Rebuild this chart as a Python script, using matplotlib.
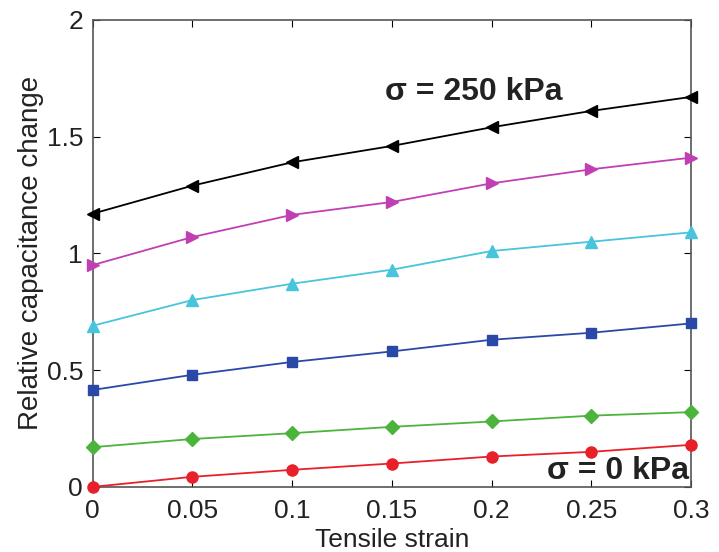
import matplotlib
matplotlib.use("Agg")
import matplotlib.pyplot as plt

strain = [0, 0.05, 0.1, 0.15, 0.2, 0.25, 0.3]
s250 = [1.17, 1.29, 1.39, 1.46, 1.54, 1.61, 1.67]
s200 = [0.95, 1.07, 1.165, 1.22, 1.30, 1.36, 1.41]
s150 = [0.69, 0.80, 0.87, 0.93, 1.01, 1.05, 1.09]
s100 = [0.415, 0.48, 0.535, 0.58, 0.63, 0.66, 0.70]
s50 = [0.17, 0.205, 0.23, 0.257, 0.28, 0.305, 0.32]
s0 = [0.0, 0.043, 0.073, 0.10, 0.13, 0.15, 0.18]

xticks = [0, 0.05, 0.1, 0.15, 0.2, 0.25, 0.3]
xticklabels = ["0", "0.05", "0.1", "0.15", "0.2", "0.25", "0.3"]
yticks = [0, 0.5, 1, 1.5, 2]
yticklabels = ["0", "0.5", "1", "1.5", "2"]

plt.rcParams['font.family'] = ['Liberation Sans', 'DejaVu Sans']

fig = plt.figure(figsize=(7.19, 5.52), dpi=100)
ax = fig.add_axes([0.129, 0.118, 0.832, 0.846])

series = [
    (s0, '#e8202a', 'o', 8),
    (s50, '#4cb43c', 'D', 7),
    (s100, '#2a48a8', 's', 7),
    (s150, '#48c4dc', '^', 8),
    (s200, '#c040b4', '>', 8),
    (s250, '#000000', '<', 8),
]
for ys, c, m, ms in series:
    ax.plot(strain, ys, color=c, marker=m, markersize=ms, linewidth=1.3,
            markeredgecolor=c, markerfacecolor=c, clip_on=False, zorder=3)

ax.set_xlim(0, 0.3)
ax.set_ylim(0, 2)
ax.set_xticks(xticks)
ax.set_xticklabels(xticklabels)
ax.set_yticks(yticks)
ax.set_yticklabels(yticklabels)
ax.tick_params(direction='in', top=True, right=True, labelsize=19, length=5,
               labelcolor='#222222')
ax.tick_params(axis='x', pad=9)
ax.tick_params(axis='y', pad=7)
for sp in ax.spines.values():
    sp.set_color('#555555')
    sp.set_linewidth(1.2)

ax.set_xlabel('Tensile strain', fontsize=19, labelpad=3, color='#222222')
ax.set_ylabel('Relative capacitance change', fontsize=20, labelpad=2, color='#222222')

ax.text(0.191, 1.69, 'σ = 250 kPa', fontsize=23, fontweight='bold', color='#222222',
        ha='center', va='center')
ax.text(0.299, 0.07, 'σ = 0 kPa', fontsize=23, fontweight='bold', color='#222222',
        ha='right', va='center')

fig.savefig('out.png', dpi=100)
